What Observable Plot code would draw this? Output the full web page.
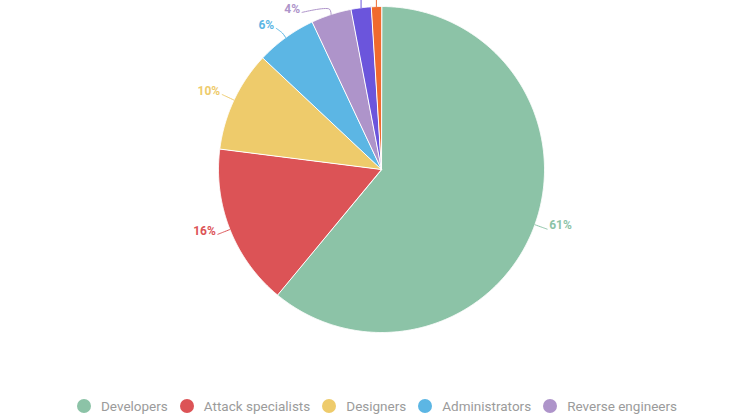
<!DOCTYPE html>
<html>
<head>
<meta charset="utf-8">
<script src="https://cdn.jsdelivr.net/npm/d3@7"></script>
<script src="https://cdn.jsdelivr.net/npm/@observablehq/plot@0.6"></script>
<style>
  html, body { margin: 0; padding: 0; background: #fff; overflow: hidden; }
  #chart svg { display: block; }
  #legend {
    display: flex; justify-content: center; align-items: center;
    height: 28px; padding-left: 10px;
    font-family: Roboto, sans-serif; font-size: 13.5px; color: #9b9b9b;
  }
  .item { display: flex; align-items: center; margin: 0 6px; }
  .dot { width: 14px; height: 14px; border-radius: 50%; margin-right: 10px; }
</style>
</head>
<body>
<div id="chart"></div>
<div id="legend"></div>
<script>
const categories = ["Developers", "Attack specialists", "Designers", "Administrators", "Reverse engineers", "Other", "Unknown"];
const shares = [61, 16, 10, 6, 4, 2, 1];
const colors = ["#8cc3a7", "#dc5356", "#eecb6b", "#5cb6e4", "#ae94ca", "#6b55dc", "#f06a2e"];
const legendCategories = ["Developers", "Attack specialists", "Designers", "Administrators", "Reverse engineers"];

const cx = 381, cy = 169, R = 163;
const total = d3.sum(shares);
// slice polygons in unit coordinates (angle clockwise from top)
const slicePoints = [];
const labels = [];
let acc = 0;
categories.forEach((name, i) => {
  const a0 = acc / total * 2 * Math.PI;
  acc += shares[i];
  const a1 = acc / total * 2 * Math.PI;
  slicePoints.push({name, x: 0, y: 0});
  const n = Math.max(2, Math.ceil((a1 - a0) / 0.005));
  for (let k = 0; k <= n; k++) {
    const a = a0 + (a1 - a0) * k / n;
    slicePoints.push({name, x: Math.sin(a), y: Math.cos(a)});
  }
  const m = (a0 + a1) / 2;
  labels.push({name, text: shares[i] + "%", mid: m, side: Math.sin(m) >= 0 ? 1 : -1});
});

// label layout: place on a circle slightly outside the pie, spread vertically
const labelR = 1.08;
const spacing = 16 / R;
for (const side of [1, -1]) {
  const group = labels.filter(d => d.side === side);
  group.forEach(d => { d.target = labelR * Math.cos(d.mid); });
  group.sort((a, b) => b.target - a.target);
  let clusters = group.map(d => ({items: [d], mean: d.target}));
  let merged = true;
  while (merged) {
    merged = false;
    for (let i = 0; i < clusters.length - 1; i++) {
      const A = clusters[i], B = clusters[i + 1];
      const aBottom = A.mean - (A.items.length - 1) * spacing / 2;
      const bTop = B.mean + (B.items.length - 1) * spacing / 2;
      if (aBottom - bTop < spacing) {
        const items = A.items.concat(B.items);
        clusters.splice(i, 2, {items, mean: d3.mean(items, d => d.target)});
        merged = true;
        break;
      }
    }
  }
  for (const c of clusters) {
    const top = c.mean + (c.items.length - 1) * spacing / 2;
    c.items.forEach((d, j) => { d.ly = top - j * spacing; });
  }
  group.forEach(d => {
    const h = labelR * labelR - d.ly * d.ly;
    d.lx = h > 0 ? side * Math.sqrt(h) : labelR * Math.sin(d.mid);
  });
}
// labels pushed above the plot area: their connectors rise straight up, their text lies outside the view
const topLimit = (cy - 8) / R;
labels.forEach(d => {
  d.hidden = d.ly > topLimit;
  if (d.hidden) { d.ly = (cy + 40) / R; d.lx = Math.sin(d.mid); }
});

const connectors = [];
labels.forEach(d => {
  if (d.hidden) {
    connectors.push({name: d.name, x: Math.sin(d.mid), y: Math.cos(d.mid)});
    connectors.push({name: d.name, x: d.lx, y: d.ly});
    return;
  }
  connectors.push({name: d.name, x: Math.sin(d.mid), y: Math.cos(d.mid)});
  connectors.push({name: d.name, x: 1.035 * Math.sin(d.mid), y: 1.035 * Math.cos(d.mid)});
  connectors.push({name: d.name, x: d.lx, y: d.ly});
});
const shown = labels.filter(d => !d.hidden);

const chart = Plot.plot({
  width: 744,
  height: 392,
  margin: 0,
  x: {domain: [-1, 1], range: [cx - R, cx + R], axis: null},
  y: {domain: [-1, 1], range: [cy + R, cy - R], axis: null},
  color: {type: "ordinal", domain: categories, range: colors, legend: false},
  style: {fontFamily: "Roboto, sans-serif", background: "#fff"},
  marks: [
    Plot.line(slicePoints, {x: "x", y: "y", z: "name", fill: "name", stroke: "#fff", strokeWidth: 1, curve: "linear-closed"}),
    Plot.line(connectors, {x: "x", y: "y", z: "name", stroke: "name", strokeWidth: 1, curve: "catmull-rom"}),
    Plot.text(shown.filter(d => d.side === 1), {x: "lx", y: "ly", text: "text", fill: "name", textAnchor: "start", dx: 2, dy: -4, fontSize: 12, fontWeight: "bold"}),
    Plot.text(shown.filter(d => d.side === -1), {x: "lx", y: "ly", text: "text", fill: "name", textAnchor: "end", dx: -2, dy: -3, fontSize: 12, fontWeight: "bold"})
  ]
});
document.getElementById("chart").appendChild(chart);

const legend = document.getElementById("legend");
legendCategories.forEach(name => {
  const item = document.createElement("div");
  item.className = "item";
  const dot = document.createElement("span");
  dot.className = "dot";
  dot.style.background = colors[categories.indexOf(name)];
  const label = document.createElement("span");
  label.textContent = name;
  item.appendChild(dot);
  item.appendChild(label);
  legend.appendChild(item);
});
</script>
</body>
</html>
